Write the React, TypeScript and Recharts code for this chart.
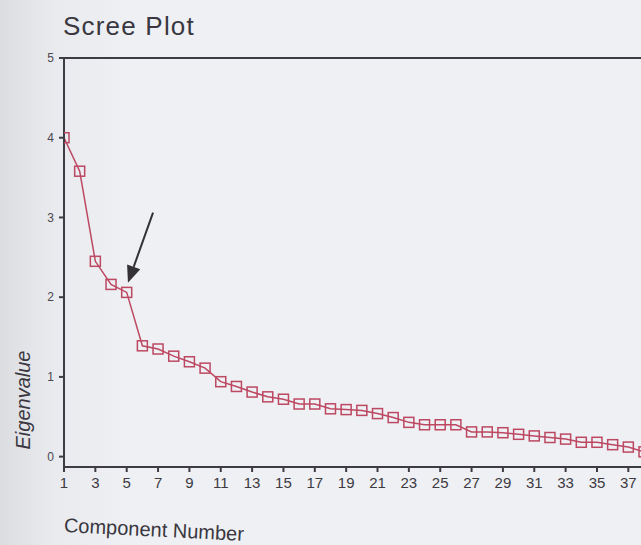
import { Line, LineChart, ReferenceLine, XAxis, YAxis } from "recharts"

// component numbers and eigenvalues
const components = [
  1, 2, 3, 4, 5, 6, 7, 8, 9, 10, 11, 12, 13, 14, 15, 16, 17, 18, 19,
  20, 21, 22, 23, 24, 25, 26, 27, 28, 29, 30, 31, 32, 33, 34, 35, 36, 37, 38,
]
const eigenvalues = [
  4.0, 3.58, 2.45, 2.16, 2.06, 1.39, 1.35, 1.26, 1.19, 1.11, 0.94, 0.88, 0.81,
  0.75, 0.72, 0.66, 0.66, 0.6, 0.59, 0.58, 0.54, 0.49, 0.43, 0.4, 0.4, 0.4,
  0.31, 0.31, 0.3, 0.28, 0.26, 0.24, 0.22, 0.18, 0.18, 0.15, 0.12, 0.06,
]
const xTicks = [1, 3, 5, 7, 9, 11, 13, 15, 17, 19, 21, 23, 25, 27, 29, 31, 33, 35, 37]
const yTicks = [0, 1, 2, 3, 4, 5]

// arrow pointing at the elbow (component 5)
const arrowFrom = { x: 6.68, y: 3.06 }
const arrowTo = { x: 5.08, y: 2.18 }

const data = components.map((c, i) => ({ component: c, eigenvalue: eigenvalues[i] }))

const lineColor = "#bd4862"
const axisColor = "#3f3b44"
const textColor = "#3a3740"
const font = "'Liberation Sans', Arial, sans-serif"

function SquareDot(props: any) {
  const { cx, cy, index } = props
  if (cx == null || cy == null) return null
  return (
    <rect
      key={`sq-${index}`}
      x={cx - 5}
      y={cy - 5}
      width={10}
      height={10}
      fill="none"
      stroke={lineColor}
      strokeWidth={1.5}
    />
  )
}

function Arrow(props: any) {
  const { x1, y1, x2, y2 } = props
  if (x1 == null) return null
  const dx = x2 - x1
  const dy = y2 - y1
  const len = Math.sqrt(dx * dx + dy * dy)
  const ux = dx / len
  const uy = dy / len
  const head = 17
  const half = 7
  const bx = x2 - ux * head
  const by = y2 - uy * head
  const pts = `${x2},${y2} ${bx - uy * half},${by + ux * half} ${bx + uy * half},${by - ux * half}`
  return (
    <g>
      <line x1={x1} y1={y1} x2={bx} y2={by} stroke="#333036" strokeWidth={2} />
      <polygon points={pts} fill="#333036" />
    </g>
  )
}

export default function App() {
  return (
    <div
      style={{
        position: "absolute",
        left: 0,
        top: 0,
        width: 641,
        height: 545,
        overflow: "hidden",
        background: "linear-gradient(90deg, #dcdde0 0%, #e9eaee 8%, #eef0f4 20%, #eef0f4 100%)",
        fontFamily: font,
      }}
    >
      <div
        style={{
          position: "absolute",
          left: 63,
          top: 11,
          fontSize: 26,
          letterSpacing: 1.2,
          color: textColor,
          whiteSpace: "nowrap",
        }}
      >
        Scree Plot
      </div>
      <div
        style={{
          position: "absolute",
          left: 23 - 60,
          top: 400 - 12,
          width: 120,
          textAlign: "center",
          fontSize: 20,
          lineHeight: "24px",
          fontStyle: "italic",
          color: textColor,
          transform: "rotate(-90deg)",
        }}
      >
        Eigenvalue
      </div>
      <div
        style={{
          position: "absolute",
          left: 64,
          top: 514,
          fontSize: 20,
          color: textColor,
          whiteSpace: "nowrap",
          transform: "rotate(2.8deg)",
          transformOrigin: "left center",
        }}
      >
        Component Number
      </div>
      <div style={{ position: "absolute", left: 0, top: 0 }}>
        <LineChart
          width={700}
          height={545}
          data={data}
          margin={{ top: 58, right: 56, bottom: 48, left: 0 }}
        >
          <XAxis
            dataKey="component"
            type="number"
            domain={[1, 38]}
            ticks={xTicks}
            interval={0}
            height={30}
            stroke={axisColor}
            strokeWidth={2}
            tickSize={5}
            tick={{ fill: "#3d3a42", fontSize: 15, fontFamily: font, dy: 3 }}
            allowDataOverflow
          />
          <YAxis
            type="number"
            domain={[-0.13, 5]}
            ticks={yTicks}
            width={64}
            stroke={axisColor}
            strokeWidth={2}
            tickSize={5}
            tick={{ fill: "#4a4750", fontSize: 12, fontFamily: font, dx: -3 }}
            allowDataOverflow
          />
          <ReferenceLine y={5} stroke={axisColor} strokeWidth={2} />
          <ReferenceLine
            segment={[arrowFrom, arrowTo]}
            ifOverflow="visible"
            shape={Arrow}
          />
          <Line
            type="linear"
            dataKey="eigenvalue"
            stroke={lineColor}
            strokeWidth={1.5}
            dot={SquareDot}
            activeDot={false}
            isAnimationActive={false}
          />
        </LineChart>
      </div>
    </div>
  )
}
